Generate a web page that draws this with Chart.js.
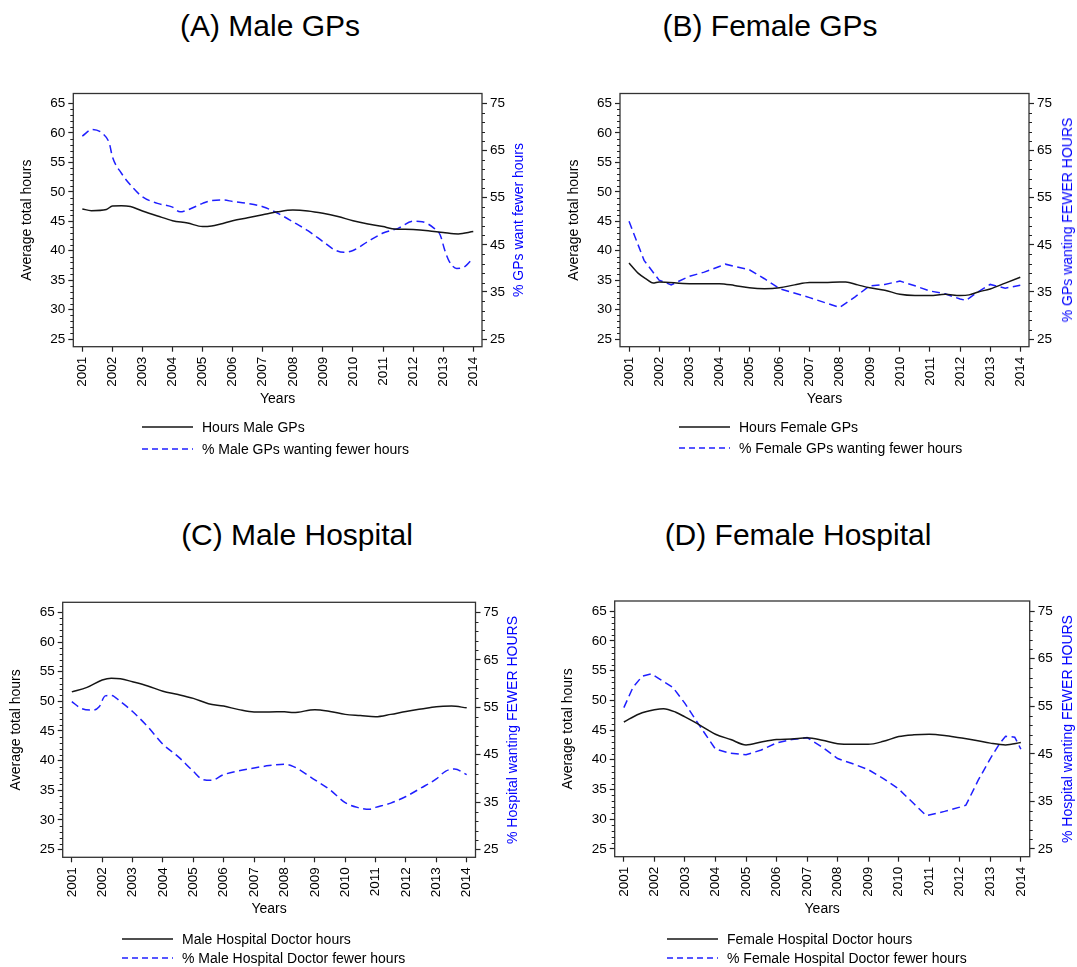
<!DOCTYPE html>
<html><head><meta charset="utf-8">
<script src="https://cdn.jsdelivr.net/npm/chart.js@4"></script>
<style>
html,body{margin:0;padding:0;background:#fff;}
body{width:1077px;height:967px;position:relative;overflow:hidden;font-family:"Liberation Sans",Arial,Helvetica,sans-serif;color:#000;}
.ptitle{position:absolute;font-size:30px;line-height:30px;white-space:nowrap;transform:translateX(-50%);}
canvas{position:absolute;}
.rtitle{position:absolute;font-size:14px;line-height:16px;color:#0000ff;white-space:nowrap;transform:translate(-50%,-50%) rotate(-90deg);}
.lg{position:absolute;font-size:14px;line-height:16px;display:flex;align-items:center;height:16px;white-space:nowrap;}
.lg svg{display:block;}
</style></head><body>
<script>
// ---- tick labels / categories ----
const years = [2001,2002,2003,2004,2005,2006,2007,2008,2009,2010,2011,2012,2013,2014];
const leftTicks = [25,30,35,40,45,50,55,60,65];
const rightTicks = [25,35,45,55,65,75];

// ---- (A) Male GPs ----
const maleGPHoursX = [2001,2001.3,2001.8,2002,2002.3,2002.6,2003,2003.5,2004,2004.5,2005,2005.3,2005.6,2006,2006.5,2007,2007.5,2008,2008.5,2009,2009.5,2010,2010.5,2011,2011.3,2012,2012.5,2013,2013.5,2014];
const maleGPHoursY = [47.1,46.8,47.0,47.6,47.65,47.5,46.75,45.9,45.1,44.7,44.1,44.2,44.55,45.1,45.6,46.1,46.6,46.9,46.75,46.35,45.8,45.1,44.55,44.1,43.75,43.6,43.4,43.1,42.85,43.25];
const maleGPFewerX = [2001,2001.33,2001.68,2001.9,2002,2002.3,2002.7,2003,2003.5,2004,2004.25,2004.5,2005,2005.3,2005.7,2006,2006.5,2007,2007.5,2008,2008.5,2009,2009.4,2009.7,2010,2010.5,2011,2011.5,2012,2012.3,2012.7,2012.9,2013.05,2013.2,2013.45,2013.7,2014];
const maleGPFewerY = [68.1,69.5,68.6,66.5,63.7,60.2,57.0,55.2,53.8,53.0,52.0,52.4,53.8,54.4,54.5,54.2,53.8,53.1,51.7,49.9,48.0,45.7,43.9,43.4,43.8,45.7,47.5,48.5,50.0,49.9,48.5,47.1,43.9,41.5,40.0,40.3,42.2];

// ---- (B) Female GPs ----
const femGPHoursX = [2001,2001.3,2001.6,2001.8,2002,2003,2004,2004.5,2005,2005.5,2006,2006.5,2007,2007.5,2008,2008.2,2008.6,2009,2009.5,2010,2010.5,2011,2011.5,2012,2012.3,2012.6,2013,2013.5,2014];
const femGPHoursY = [37.9,36.2,35.1,34.5,34.7,34.4,34.4,34.1,33.7,33.55,33.7,34.2,34.6,34.6,34.7,34.7,34.2,33.7,33.3,32.6,32.4,32.4,32.6,32.4,32.5,33.0,33.5,34.5,35.5];
const femGPFewerX = [2001,2001.5,2002,2002.4,2003,2003.5,2004,2004.2,2005,2005.5,2006,2007,2008,2008.5,2009,2009.5,2010,2010.5,2011,2011.5,2012,2012.2,2012.5,2013,2013.5,2014];
const femGPFewerY = [50.0,41.7,37.5,36.5,38.3,39.2,40.4,40.9,39.7,37.8,35.7,33.8,31.7,33.9,36.3,36.6,37.3,36.3,35.2,34.6,33.5,33.2,34.6,36.6,35.8,36.4];

// ---- (C) Male Hospital ----
const maleHospHoursX = [2001,2001.5,2002,2002.3,2002.6,2003,2003.5,2004,2004.5,2005,2005.5,2006,2006.5,2007,2007.5,2008,2008.3,2009,2009.5,2010,2010.5,2011,2011.5,2012,2012.5,2013,2013.5,2014];
const maleHospHoursY = [51.6,52.35,53.6,53.9,53.8,53.3,52.6,51.7,51.15,50.5,49.6,49.2,48.6,48.2,48.2,48.25,48.1,48.6,48.3,47.8,47.6,47.4,47.8,48.3,48.7,49.1,49.2,48.9];
const maleHospFewerX = [2001,2001.3,2001.7,2001.9,2002.1,2002.3,2002.6,2003,2003.5,2004,2004.5,2005,2005.3,2005.6,2006,2006.5,2007,2007.5,2008,2008.3,2009,2009.5,2010,2010.4,2010.8,2011,2011.5,2012,2012.5,2013,2013.3,2013.6,2014];
const maleHospFewerY = [56.2,54.8,54.4,55.1,57.4,57.5,56.2,54.1,50.9,47.2,44.6,41.5,39.8,39.6,40.8,41.6,42.2,42.7,43.0,42.5,39.7,37.6,34.9,33.9,33.5,33.9,34.8,36.2,38.0,39.9,41.5,42.0,40.8];

// ---- (D) Female Hospital ----
const femHospHoursX = [2001,2001.5,2002,2002.3,2002.7,2003,2003.5,2004,2004.5,2005,2005.5,2006,2006.5,2007,2007.5,2008,2008.5,2009,2009.5,2010,2010.5,2011,2011.5,2012,2012.5,2013,2013.5,2014];
const femHospHoursY = [46.35,47.7,48.4,48.6,48.0,47.2,45.8,44.3,43.4,42.5,43.0,43.4,43.5,43.7,43.3,42.7,42.6,42.6,43.1,43.9,44.2,44.3,44.1,43.7,43.3,42.8,42.5,42.9];
const femHospFewerX = [2001,2001.3,2001.6,2001.9,2002.2,2002.6,2003,2003.5,2004,2004.5,2005,2005.5,2006,2006.5,2007,2007.5,2008,2008.5,2009,2009.5,2010,2010.5,2010.9,2011.5,2012,2012.2,2012.6,2013,2013.3,2013.5,2013.8,2014];
const femHospFewerY = [54.7,59.0,61.3,61.8,60.6,59.0,55.6,50.7,46.0,45.1,44.8,45.8,47.3,48.0,48.4,46.4,44.0,42.9,41.7,39.8,37.6,34.5,32.0,32.9,33.8,34.2,39.4,44.0,47.1,48.7,48.5,46.0];

// ---- axis ranges ----
const X_MIN = 2000.7, X_MAX = 2014.29;
const Y_MIN = 23.7, Y_MAX = 66.7;
const Y1_MIN = 25 + (Y_MIN - 25) * 1.25, Y1_MAX = 25 + (Y_MAX - 25) * 1.25;

Chart.defaults.font.family = '"Liberation Sans", Arial, Helvetica, sans-serif';
Chart.defaults.color = '#000';

const panels = [
  {title:'(A) Male GPs', titleX:270, titleTop:11.3, cLeft:0, cTop:60, L:73.3, R:482, T:93.5, B:346.7, yearsY:399.5, yTitleX:27.5, rTitleX:518,
   rTitle:'% GPs want fewer hours', legX:142, legY:[427,449],
   hx:maleGPHoursX, hy:maleGPHoursY, px:maleGPFewerX, py:maleGPFewerY, hLabel:'Hours Male GPs', pLabel:'% Male GPs wanting fewer hours', smoothP:true},
  {title:'(B) Female GPs', titleX:770, titleTop:11.3, cLeft:539, cTop:60, L:620, R:1029, T:93.5, B:346.7, yearsY:399.5, yTitleX:574.3, rTitleX:1066.5,
   rTitle:'% GPs wanting FEWER HOURS', legX:679, legY:[427,448],
   hx:femGPHoursX, hy:femGPHoursY, px:femGPFewerX, py:femGPFewerY, hLabel:'Hours Female GPs', pLabel:'% Female GPs wanting fewer hours', smoothP:false},
  {title:'(C) Male Hospital', titleX:297, titleTop:520.3, cLeft:0, cTop:570, L:62.7, R:475.5, T:602.3, B:857.3, yearsY:909, yTitleX:15.8, rTitleX:512,
   rTitle:'% Hospital wanting FEWER HOURS', legX:122, legY:[939,958],
   hx:maleHospHoursX, hy:maleHospHoursY, px:maleHospFewerX, py:maleHospFewerY, hLabel:'Male Hospital Doctor hours', pLabel:'% Male Hospital Doctor fewer hours', smoothP:true},
  {title:'(D) Female Hospital', titleX:798, titleTop:520.3, cLeft:539, cTop:570, L:614.7, R:1029.7, T:601, B:856.7, yearsY:909, yTitleX:567.7, rTitleX:1066.5,
   rTitle:'% Hospital wanting FEWER HOURS', legX:667, legY:[939,958],
   hx:femHospHoursX, hy:femHospHoursY, px:femHospFewerX, py:femHospFewerY, hLabel:'Female Hospital Doctor hours', pLabel:'% Female Hospital Doctor fewer hours', smoothP:false}
];

const BLACK = '#151515', BLUE = '#1f1fff';
const tickFont = {size:13.5};
const gridOpts = {drawOnChartArea:false, drawTicks:true, tickLength:5, tickColor:'#222', tickWidth:1.2};

const framePlugin = {
  id:'frame',
  afterDraw(chart){
    const {ctx, chartArea:a, scales} = chart;
    ctx.save();
    ctx.strokeStyle = '#333'; ctx.lineWidth = 1.3;
    ctx.strokeRect(a.left, a.top, a.right - a.left, a.bottom - a.top);
    // minor ticks
    ctx.strokeStyle = '#222'; ctx.lineWidth = 1;
    ctx.beginPath();
    for (let v = 26; v < 65; v++) {
      if (v % 5 === 0) continue;
      const py = Math.round(scales.y.getPixelForValue(v)) + 0.5;
      ctx.moveTo(a.left - 3, py); ctx.lineTo(a.left, py);
    }
    for (let v = 27; v < 75; v += 2) {
      if ((v - 25) % 10 === 0) continue;
      const py = Math.round(scales.y1.getPixelForValue(v)) + 0.5;
      ctx.moveTo(a.right, py); ctx.lineTo(a.right + 3, py);
    }
    ctx.stroke();
    ctx.restore();
  }
};

function build(p){
  const cW = 538, cH = 370;
  const cv = document.createElement('canvas');
  cv.width = cW; cv.height = cH;
  cv.style.left = p.cLeft + 'px'; cv.style.top = p.cTop + 'px';
  cv.style.width = cW + 'px'; cv.style.height = cH + 'px';
  document.body.appendChild(cv);
  const titleLH = 14 * 1.2;
  const xBottom = p.yearsY + titleLH / 2;
  const xH = xBottom - p.B;
  const padBottom = p.cTop + cH - xBottom;

  const chart = new Chart(cv, {
    type:'line',
    data:{datasets:[
      {label:p.hLabel, data:p.hx.map((x,i)=>({x:x, y:p.hy[i]})), yAxisID:'y', borderColor:BLACK, borderWidth:1.5,
       pointRadius:0, fill:false, cubicInterpolationMode:'monotone'},
      {label:p.pLabel, data:p.px.map((x,i)=>({x:x, y:p.py[i]})), yAxisID:'y1', borderColor:BLUE, borderWidth:1.5,
       borderDash:[8,4.5], pointRadius:0, fill:false, cubicInterpolationMode: p.smoothP ? 'monotone' : 'default', tension:0}
    ]},
    options:{
      responsive:false, animation:false, devicePixelRatio:1,
      layout:{padding:{top:p.T - p.cTop, bottom:padBottom, left:0, right:0}},
      plugins:{legend:{display:false}, tooltip:{enabled:false}},
      scales:{
        x:{type:'linear', position:'bottom', min:X_MIN, max:X_MAX,
           afterBuildTicks:s=>{ s.ticks = years.map(v=>({value:v})); },
           afterFit:s=>{ s.height = xH; },
           ticks:{autoSkip:false, minRotation:90, maxRotation:90, padding:5, font:tickFont, color:'#000', callback:v=>String(v)},
           grid:gridOpts, border:{display:false},
           title:{display:true, text:'Years', font:{size:14}, color:'#000', padding:0}},
        y:{type:'linear', position:'left', min:Y_MIN, max:Y_MAX,
           afterBuildTicks:s=>{ s.ticks = leftTicks.map(v=>({value:v})); },
           afterFit:s=>{ s.width = p.L - p.cLeft; },
           ticks:{padding:3, font:tickFont, color:'#000', callback:v=>String(v)},
           grid:gridOpts, border:{display:false},
           title:{display:true, text:'Average total hours', font:{size:14}, color:'#000', padding:{top:p.yTitleX - p.cLeft - titleLH/2, bottom:0}}},
        y1:{type:'linear', position:'right', min:Y1_MIN, max:Y1_MAX,
           afterBuildTicks:s=>{ s.ticks = rightTicks.map(v=>({value:v})); },
           afterFit:s=>{ s.width = p.cLeft + cW - p.R; },
           ticks:{padding:3, font:tickFont, color:'#000', callback:v=>String(v)},
           grid:gridOpts, border:{display:false}}
      }
    },
    plugins:[framePlugin]
  });

  // panel title
  const t = document.createElement('div');
  t.className = 'ptitle'; t.textContent = p.title;
  t.style.left = p.titleX + 'px'; t.style.top = p.titleTop + 'px';
  document.body.appendChild(t);

  // right axis title (reads bottom-to-top)
  const rt = document.createElement('div');
  rt.className = 'rtitle'; rt.textContent = p.rTitle;
  rt.style.left = p.rTitleX + 'px'; rt.style.top = ((p.T + p.B) / 2) + 'px';
  document.body.appendChild(rt);

  // legend built from the chart's datasets
  chart.data.datasets.forEach((ds, i)=>{
    const row = document.createElement('div');
    row.className = 'lg';
    row.style.left = p.legX + 'px';
    row.style.top = (p.legY[i] - 8) + 'px';
    const dash = ds.borderDash ? 'stroke-dasharray="6,4"' : '';
    row.innerHTML = '<svg width="51" height="4"><line x1="0" y1="2" x2="51" y2="2" stroke="' + ds.borderColor +
      '" stroke-width="1.5" ' + dash + '/></svg><span style="margin-left:9px">' + ds.label + '</span>';
    document.body.appendChild(row);
  });
}

panels.forEach(build);
</script>
</body></html>
